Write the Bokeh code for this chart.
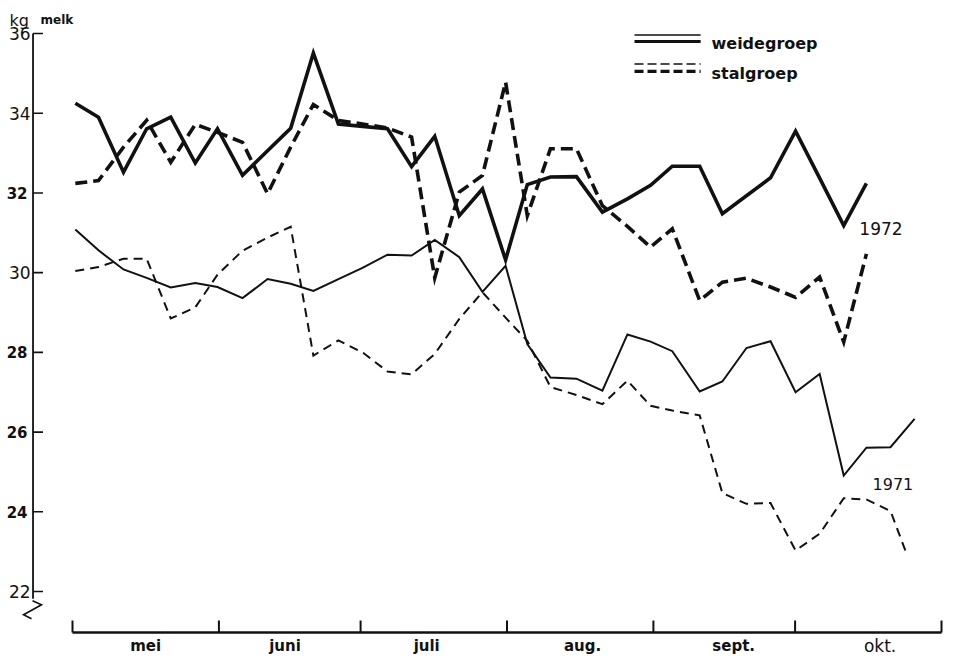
from bokeh.plotting import figure
from bokeh.models import Range1d
from bokeh.core.properties import value
from bokeh.embed import file_html
from bokeh.resources import INLINE

# ---------------------------------------------------------------------------
# Data: daily milk yield (kg melk per koe) for grazing and housed groups,
# measured every ~5 days from 1 May; x in days since 1 May.
# ---------------------------------------------------------------------------
dag = [0.6, 5.5, 10.8, 15.7, 20.8, 26.0, 30.7, 36.0, 41.3, 46.2,
       51.0, 56.3, 61.4, 66.7, 71.8, 76.7, 81.9, 86.8, 91.7, 96.3,
       101.2, 106.7, 112.2, 117.5, 122.4, 127.0, 132.8, 137.6, 142.7, 147.8,
       153.1, 158.2, 163.3, 168.1, 173.2, 178.3]

weide_1972 = [34.25, 33.90, 32.52, 33.61, 33.90, 32.75, 33.61, 32.44, 33.06, 33.62,
              35.51, 33.73, 33.67, 33.61, 32.66, 33.42, 31.43, 32.10, 30.32, 32.21,
              32.40, 32.41, 31.52, 31.85, 32.19, 32.67, 32.67, 31.48, 31.93, 32.38,
              33.55, 32.37, 31.18, 32.24]

stal_1972 = [32.24, 32.31, 33.15, 33.82, 32.77, 33.72, 33.52, 33.27, 31.98, 33.15,
             34.22, 33.82, 33.73, 33.63, 33.40, 29.87, 32.02, 32.44, 34.78, 31.43,
             33.11, 33.11, 31.68, 31.16, 30.64, 31.10, 29.30, 29.76, 29.86, 29.64,
             29.38, 29.89, 28.26, 30.47]

weide_1971 = [31.08, 30.56, 30.08, 29.87, 29.63, 29.74, 29.64, 29.36, 29.84, 29.72,
              29.54, 29.84, 30.12, 30.45, 30.43, 30.82, 30.39, 29.52, 30.17, 28.21,
              27.37, 27.34, 27.04, 28.45, 28.27, 28.03, 27.02, 27.27, 28.11, 28.28,
              27.00, 27.46, 24.91, 25.61, 25.62, 26.33]

dag_stal_1971 = dag[:35] + [176.6]
stal_1971 = [30.04, 30.14, 30.35, 30.35, 28.85, 29.13, 29.95, 30.55, 30.88, 31.15,
             27.92, 28.30, 28.00, 27.52, 27.45, 27.96, 28.84, 29.51, 28.87, 28.29,
             27.13, 26.93, 26.70, 27.29, 26.66, 26.54, 26.42, 24.47, 24.20, 24.22,
             23.03, 23.45, 24.34, 24.31, 24.02, 22.95]

maanden = ["mei", "juni", "juli", "aug.", "sept.", "okt."]
maand_lengte = [31, 30, 31, 31, 30, 31]

kg_ticks = [22, 24, 26, 28, 30, 32, 34, 36]
kg_labels = ["22", "24", "26", "28", "30", "32", "34", "36"]

legend_labels = ["weidegroep", "stalgroep"]
jaar_labels = ["1972", "1971"]

# ---------------------------------------------------------------------------
# Layout
# ---------------------------------------------------------------------------
W, H = 953, 657
x_lo, x_hi = -15.245, 186.54
y_lo, y_hi = 20.345, 36.828
px_x = (x_hi - x_lo) / W      # days per screen pixel
px_y = (y_hi - y_lo) / H      # kg per screen pixel

p = figure(width=W, height=H, x_range=Range1d(x_lo, x_hi), y_range=Range1d(y_lo, y_hi),
           output_backend="svg", toolbar_location=None, min_border=0,
           x_axis_type=None, y_axis_type=None)
p.outline_line_color = None
p.background_fill_color = "white"
p.border_fill_color = "white"

INK = "#111111"
FONT = value("DejaVu Sans")

# --- vertical (kg) axis with a break mark at the bottom -------------------
ax_x = -8.36
axis_bottom = 21.82
p.line([ax_x, ax_x], [axis_bottom, kg_ticks[-1]], line_color=INK, line_width=1.8)
p.segment(x0=[ax_x] * len(kg_ticks), y0=kg_ticks,
          x1=[ax_x + 10 * px_x] * len(kg_ticks), y1=kg_ticks,
          line_color=INK, line_width=1.6)
p.line([ax_x - 0.5 * px_x, ax_x + 8.5 * px_x, ax_x - 9.5 * px_x, ax_x - 1.5 * px_x],
       [axis_bottom - 2 * px_y, axis_bottom - 6 * px_y, axis_bottom - 16 * px_y, axis_bottom - 20 * px_y],
       line_color=INK, line_width=1.6, line_join="miter")

bold_ticks = {24, 26, 28, 32}
norm_idx = [i for i, t in enumerate(kg_ticks) if t not in bold_ticks]
bold_idx = [i for i, t in enumerate(kg_ticks) if t in bold_ticks]
p.text(x=[ax_x - 2.5 * px_x] * len(norm_idx), y=[kg_ticks[i] for i in norm_idx],
       text=[kg_labels[i] for i in norm_idx], text_font=FONT, text_font_size="17px",
       text_align="right", text_baseline="middle", text_color=INK)
p.text(x=[ax_x - 5.5 * px_x] * len(bold_idx), y=[kg_ticks[i] for i in bold_idx],
       text=[kg_labels[i] for i in bold_idx], text_font=FONT, text_font_size="15px",
       text_font_style="bold", text_align="right", text_baseline="middle", text_color=INK)

# unit label
p.text(x=[ax_x - 23.5 * px_x], y=[kg_ticks[-1] + 13.5 * px_y], text=["kg"], text_font=FONT,
       text_font_size="16px", text_align="left", text_baseline="alphabetic", text_color=INK)
p.text(x=[ax_x + 7.5 * px_x], y=[kg_ticks[-1] + 13.5 * px_y], text=["melk"], text_font=FONT,
       text_font_size="12px", text_font_style="bold", text_align="left",
       text_baseline="alphabetic", text_color=INK)

# --- horizontal (month) axis -------------------------------------------------
grenzen = [0]
for n in maand_lengte:
    grenzen.append(grenzen[-1] + n)
base_y = 20.972
p.line([grenzen[0], grenzen[-1]], [base_y, base_y], line_color=INK, line_width=2.6)
p.segment(x0=grenzen, y0=[base_y] * len(grenzen), x1=grenzen,
          y1=[base_y + 12 * px_y] * len(grenzen), line_color=INK, line_width=2)

label_shift = [0, -1, -1.5, 0.5, 2, 2.5]
mids = [(grenzen[i] + grenzen[i + 1]) / 2 + label_shift[i] for i in range(len(maanden))]
label_y = base_y - 13 * px_y
p.text(x=mids[:-1], y=[label_y] * (len(mids) - 1), text=maanden[:-1], text_font=FONT,
       text_font_size="15px", text_font_style="bold", text_align="center",
       text_baseline="alphabetic", text_color=INK)
p.text(x=[mids[-1]], y=[label_y], text=[maanden[-1]], text_font=FONT,
       text_font_size="17px", text_align="center", text_baseline="alphabetic", text_color=INK)

# --- series ------------------------------------------------------------------
n72 = len(weide_1972)
p.line(dag[:n72], weide_1972, line_color=INK, line_width=3.6, line_join="miter")
p.line(dag[:n72], stal_1972, line_color=INK, line_width=3.6, line_dash="12 6", line_join="miter")
p.line(dag, weide_1971, line_color=INK, line_width=2, line_join="miter")
p.line(dag_stal_1971, stal_1971, line_color=INK, line_width=2, line_dash="9 6", line_join="miter")

p.text(x=[dag[n72 - 1] - 1.5], y=[weide_1972[-1] - 1.14], text=[jaar_labels[0]], text_font=FONT,
       text_font_size="17px", text_align="left", text_baseline="alphabetic", text_color=INK)
p.text(x=[dag[-1] - 8.9], y=[weide_1971[-1] - 1.62], text=[jaar_labels[1]], text_font=FONT,
       text_font_size="16px", text_align="left", text_baseline="alphabetic", text_color=INK)

# --- legend ------------------------------------------------------------------
lx0, lx1 = 119.0, 133.0
p.line([lx0, lx1], [35.962, 35.962], line_color=INK, line_width=1.5)
p.line([lx0, lx1], [35.80, 35.80], line_color=INK, line_width=3.2)
p.line([lx0, lx1], [35.235, 35.235], line_color=INK, line_width=1.5, line_dash="9 4")
p.line([lx0, lx1], [35.05, 35.05], line_color=INK, line_width=3.2, line_dash="9 4")
p.text(x=[135.3, 135.3], y=[35.749, 35.009], text=legend_labels, text_font=FONT,
       text_font_size="16px", text_font_style="bold", text_align="left",
       text_baseline="alphabetic", text_color=INK)

open("out.html", "w").write(file_html(p, INLINE))
